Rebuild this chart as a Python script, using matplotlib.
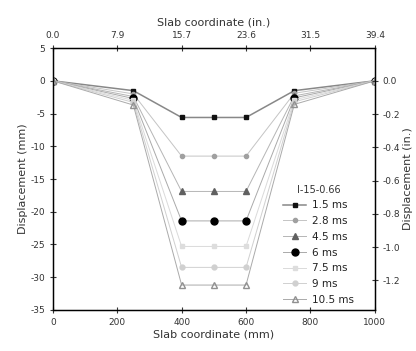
import numpy as np
import matplotlib
matplotlib.use("Agg")
import matplotlib.pyplot as plt

# slab coordinate (mm) and displacement (mm) for each time step
x_mm = [0, 250, 400, 500, 600, 750, 1000]
times = ["1.5 ms", "2.8 ms", "4.5 ms", "6 ms", "7.5 ms", "9 ms", "10.5 ms"]
disp = [
    [0, -1.5, -5.6, -5.6, -5.6, -1.5, 0],
    [0, -2.0, -11.5, -11.5, -11.5, -1.9, 0],
    [0, -2.4, -16.9, -16.9, -16.9, -2.3, 0],
    [0, -2.7, -21.4, -21.4, -21.4, -2.6, 0],
    [0, -3.0, -25.3, -25.3, -25.3, -2.9, 0],
    [0, -3.3, -28.5, -28.5, -28.5, -3.2, 0],
    [0, -3.7, -31.2, -31.2, -31.2, -3.6, 0],
]
top_ticks = [0, 200, 400, 600, 800, 1000]
top_labels = ["0.0", "7.9", "15.7", "23.6", "31.5", "39.4"]
right_ticks = [0.0, -0.2, -0.4, -0.6, -0.8, -1.0, -1.2]

styles = [
    dict(marker="s", color="#111111", mfc="#111111", ms=3.5, lc="#888888", lw=1.1),
    dict(marker="o", color="#a0a0a0", mfc="#a0a0a0", ms=3, lc="#c4c4c4", lw=0.7),
    dict(marker="^", color="#606060", mfc="#606060", ms=4, lc="#b5b5b5", lw=0.7),
    dict(marker="o", color="#000000", mfc="#000000", ms=5, lc="#aaaaaa", lw=0.7),
    dict(marker="s", color="#dddddd", mfc="#dddddd", ms=3.5, lc="#dadada", lw=0.7),
    dict(marker="o", color="#d0d0d0", mfc="#d0d0d0", ms=3.5, lc="#d0d0d0", lw=0.7),
    dict(marker="^", color="#909090", mfc="none", ms=4, lc="#aaaaaa", lw=0.7),
]

plt.rcParams["font.family"] = "DejaVu Sans"
plt.rcParams["font.size"] = 8
plt.rcParams["axes.unicode_minus"] = False

fig = plt.figure(figsize=(4.16, 3.51), dpi=100)
ax = fig.add_axes([0.127, 0.117, 0.774, 0.746])

for t, y, st in zip(times, disp, styles):
    ax.plot(x_mm, y, color=st["lc"], lw=st["lw"], marker=st["marker"],
            ms=st["ms"], mfc=st["mfc"], mec=st["color"], label=t)

ax.set_xlim(0, 1000)
ax.set_ylim(-35, 5)
ax.set_xticks([0, 200, 400, 600, 800, 1000])
ax.set_yticks(np.arange(-35, 6, 5))
ax.set_xlabel("Slab coordinate (mm)", color="#333333", labelpad=2)
ax.set_ylabel("Displacement (mm)", color="#333333", labelpad=2)
ax.tick_params(direction="inout", length=4, width=0.8, colors="#333333", labelsize=6.5)

for s in ax.spines.values():
    s.set_color("#444444")
    s.set_linewidth(1.0)

axt = ax.twiny()
axt.set_xlim(0, 1000)
axt.set_xticks(top_ticks)
axt.set_xticklabels(top_labels)
axt.set_xlabel("Slab coordinate (in.)", color="#333333", labelpad=4)
axt.tick_params(direction="inout", length=4, width=0.8, colors="#333333", labelsize=6.5)

axr = ax.twinx()
axr.set_ylim(-35 / 25.4, 5 / 25.4)
axr.set_yticks(right_ticks)
axr.set_yticklabels(["%.1f" % v for v in right_ticks])
axr.set_ylabel("Displacement (in.)", color="#333333", labelpad=2)
axr.tick_params(direction="inout", length=4, width=0.8, colors="#333333", labelsize=6.5)

leg = ax.legend(title="I-15-0.66", loc="lower left", bbox_to_anchor=(0.70, 0.0),
                frameon=False, fontsize=7.5, title_fontsize=7,
                handlelength=2.2, handletextpad=0.5, labelspacing=0.55,
                borderaxespad=0.1)
for txt in leg.get_texts():
    txt.set_color("#222222")
leg.get_title().set_color("#333333")

fig.savefig("out.png", dpi=100)
